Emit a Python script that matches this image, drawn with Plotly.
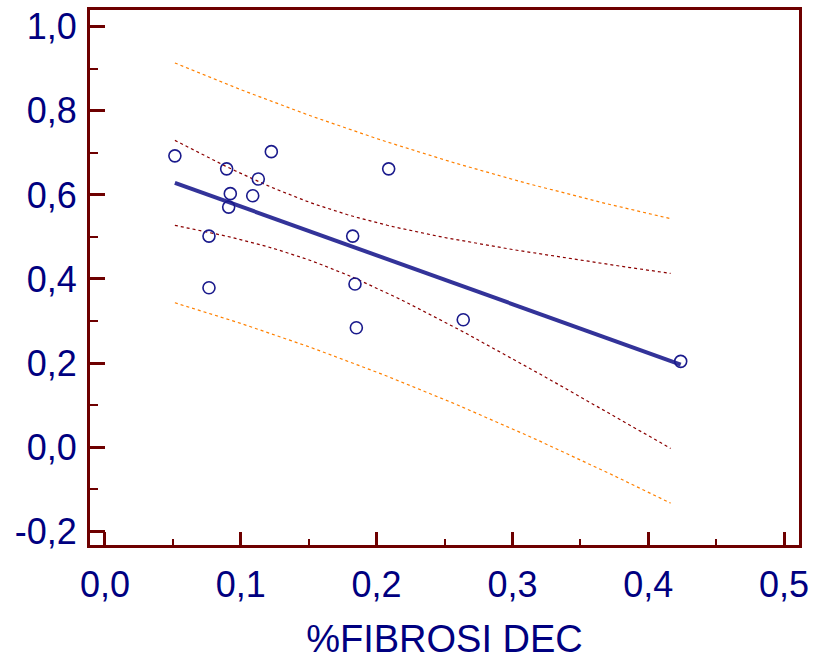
import numpy as np
import plotly.graph_objects as go

# Data
fibrosi_dec = [0.0515, 0.0896, 0.1225, 0.0923, 0.0911, 0.1129, 0.1088, 0.2089,
               0.0766, 0.1824, 0.0766, 0.1841, 0.1851, 0.2638, 0.4239]
y_values = [0.693, 0.662, 0.703, 0.603, 0.571, 0.638, 0.598, 0.662,
            0.502, 0.502, 0.379, 0.388, 0.284, 0.303, 0.204]
x_tick_vals = [0.0, 0.1, 0.2, 0.3, 0.4, 0.5]
x_tick_text = ["0,0", "0,1", "0,2", "0,3", "0,4", "0,5"]
y_tick_vals = [-0.2, 0.0, 0.2, 0.4, 0.6, 0.8, 1.0]
y_tick_text = ["-0,2", "0,0", "0,2", "0,4", "0,6", "0,8", "1,0"]
x_title = "%FIBROSI DEC"

# Least-squares fit with 95% confidence and prediction bands
x = np.array(fibrosi_dec)
y = np.array(y_values)
n = len(x)
xm, ym = x.mean(), y.mean()
sxx = ((x - xm) ** 2).sum()
slope = ((x - xm) * (y - ym)).sum() / sxx
intercept = ym - slope * xm
resid = y - (intercept + slope * x)
s = np.sqrt((resid ** 2).sum() / (n - 2))
t_crit = 2.160  # t(0.975, df=13)

grid = np.linspace(x.min(), x.max(), 51)[:-1]
fit_g = intercept + slope * grid
conf = t_crit * s * np.sqrt(1 / n + (grid - xm) ** 2 / sxx)
pred = t_crit * s * np.sqrt(1 + 1 / n + (grid - xm) ** 2 / sxx)
line_x = np.array([x.min(), x.max()])
line_y = intercept + slope * line_x

frame = "#6e0000"
navy = "#000080"
font = "Liberation Sans, Arial, sans-serif"

fig = go.Figure()
for band, col in [(pred, "#ff8000"), (conf, "#8b0000")]:
    for sign in (1, -1):
        fig.add_trace(go.Scatter(x=grid, y=fit_g + sign * band, mode="lines",
                                 line=dict(color=col, width=1.2, dash="dot"),
                                 hoverinfo="skip"))
fig.add_trace(go.Scatter(x=line_x, y=line_y, mode="lines",
                         line=dict(color="#333399", width=4)))
fig.add_trace(go.Scatter(x=fibrosi_dec, y=y_values, mode="markers",
                         marker=dict(symbol="circle-open", size=12,
                                     color="#1a1a8c", line=dict(width=1.6))))

axis_common = dict(showline=True, linecolor=frame, linewidth=3, mirror=True,
                   showgrid=False, zeroline=False, ticks="inside",
                   tickcolor=frame, tickwidth=3, automargin=False,
                   ticklabeloverflow="allow",
                   tickfont=dict(family=font, size=36, color=navy))

fig.update_layout(
    width=819, height=663,
    margin=dict(l=90, r=20, t=10, b=118),
    paper_bgcolor="white", plot_bgcolor="white",
    showlegend=False,
    xaxis=dict(axis_common, range=[-0.011, 0.511], tickvals=x_tick_vals,
               ticktext=x_tick_text,
               ticklen=13, ticklabelstandoff=6,
               minor=dict(ticks="inside", ticklen=6, tickcolor=frame,
                          tickwidth=2, dtick=0.05, tick0=0),
               title=dict(text=x_title, standoff=22,
                          font=dict(family=font, size=38, color=navy))),
    yaxis=dict(axis_common, range=[-0.233, 1.04], tickvals=y_tick_vals,
               ticktext=y_tick_text,
               ticklen=15, ticklabelstandoff=3,
               minor=dict(ticks="inside", ticklen=8, tickcolor=frame,
                          tickwidth=2, dtick=0.1, tick0=0)),
)

fig.write_html("out.html",
               config={"displayModeBar": False},
               post_script="document.body.style.margin='0';"
                           "document.body.style.overflow='hidden';")
